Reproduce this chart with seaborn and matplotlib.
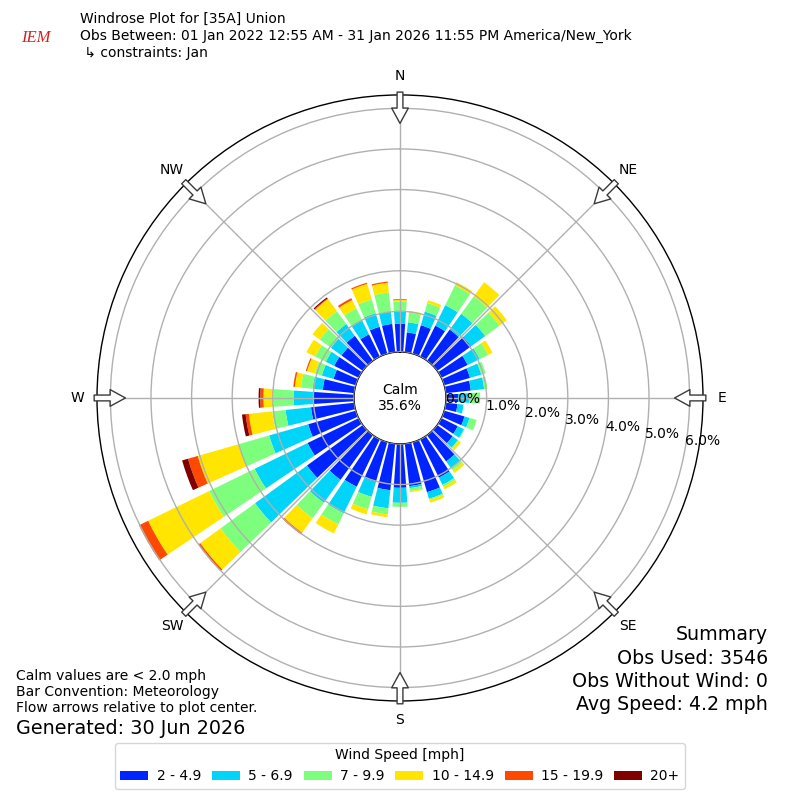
import numpy as np
import matplotlib
matplotlib.use("Agg")
import matplotlib.pyplot as plt
import seaborn as sns

# ---------------- data ----------------
directions = np.arange(0, 360, 10)  # degrees (meteorological, "from")

speed_labels = ["2 - 4.9", "5 - 6.9", "7 - 9.9", "10 - 14.9", "15 - 19.9", "20+"]

# per-band frequency (%) for each direction
pct_2_5 = [0.70, 0.49, 0.73, 0.85, 0.95, 1.03, 0.72, 0.66, 0.62, 0.30, 0.29, 0.52,
           0.45, 0.47, 0.80, 1.05, 1.28, 1.05, 1.08, 1.15, 1.02, 1.30, 1.36, 1.70,
           1.40, 1.22, 1.07, 1.00, 0.78, 0.57, 0.67, 0.65, 0.76, 0.61, 0.69, 0.70]
pct_5_7 = [0.29, 0.25, 0.35, 0.56, 0.48, 0.43, 0.33, 0.29, 0.33, 0.28, 0.15, 0.13,
           0.17, 0.16, 0.20, 0.20, 0.17, 0.05, 0.37, 0.45, 0.38, 0.73, 0.70, 1.58,
           1.45, 1.00, 0.63, 0.49, 0.25, 0.30, 0.23, 0.32, 0.36, 0.38, 0.35, 0.30]
pct_7_10 = [0.25, 0.24, 0.22, 0.54, 0.53, 0.44, 0.23, 0.11, 0.08, 0.26, 0.00, 0.18,
            0.02, 0.03, 0.08, 0.05, 0.03, 0.07, 0.10, 0.15, 0.32, 0.30, 0.47, 1.05,
            1.25, 0.78, 0.33, 0.49, 0.29, 0.18, 0.29, 0.34, 0.39, 0.33, 0.35, 0.48]
pct_10_15 = [0.04, 0.04, 0.07, 0.09, 0.43, 0.22, 0.12, 0.00, 0.00, 0.00, 0.00, 0.00,
             0.00, 0.06, 0.07, 0.07, 0.07, 0.03, 0.00, 0.07, 0.13, 0.25, 0.44, 0.62,
             1.67, 1.05, 0.58, 0.25, 0.15, 0.20, 0.24, 0.22, 0.37, 0.23, 0.40, 0.24]
pct_15_20 = [0.02, 0.00, 0.00, 0.00, 0.00, 0.00, 0.00, 0.00, 0.00, 0.00, 0.00, 0.00,
             0.00, 0.00, 0.00, 0.00, 0.00, 0.00, 0.00, 0.00, 0.00, 0.00, 0.05, 0.06,
             0.25, 0.25, 0.08, 0.08, 0.04, 0.03, 0.00, 0.00, 0.02, 0.05, 0.03, 0.03]
pct_20p = [0.00, 0.00, 0.00, 0.00, 0.00, 0.00, 0.00, 0.00, 0.00, 0.00, 0.00, 0.00,
           0.00, 0.00, 0.00, 0.00, 0.00, 0.00, 0.00, 0.00, 0.00, 0.00, 0.00, 0.00,
           0.00, 0.15, 0.09, 0.04, 0.00, 0.00, 0.00, 0.00, 0.03, 0.00, 0.00, 0.00]

radial_ticks = [0, 1, 2, 3, 4, 5, 6]
compass_angles = [0, 45, 90, 135, 180, 225, 270, 315]
compass_labels = ["N", "NE", "E", "SE", "S", "SW", "W", "NW"]
calm_pct = 35.6
summary_lines = ["Summary", "Obs Used: 3546", "Obs Without Wind: 0", "Avg Speed: 4.2 mph"]

# ---------------- style ----------------
sns.set_style("white")
plt.rcParams["font.family"] = ["DejaVu Sans"]
plt.rcParams["text.color"] = "black"
plt.rcParams["xtick.color"] = "black"
plt.rcParams["ytick.color"] = "black"
plt.rcParams["axes.labelcolor"] = "black"
palette = sns.color_palette(["#0024ff", "#00d4f8", "#7dff7d", "#ffe500", "#ff4800", "#800000"])

fig = plt.figure(figsize=(8, 8), dpi=100)
ax = fig.add_axes([0.12125, 0.1238, 0.7575, 0.7575], projection="polar")
ax.set_theta_zero_location("N")
ax.set_theta_direction(-1)
ax.set_rorigin(-1.133)
ax.set_ylim(0, 6.33)
ax.set_axisbelow(False)

theta = np.deg2rad(directions)
bands = [pct_2_5, pct_5_7, pct_7_10, pct_10_15, pct_15_20, pct_20p]
bottom = np.zeros(len(directions))
handles = []
for vals, col, lab in zip(bands, palette, speed_labels):
    vals = np.asarray(vals)
    b = ax.bar(theta, vals, width=np.deg2rad(8), bottom=bottom, color=col,
               linewidth=0, label=lab, zorder=1)
    handles.append(b)
    bottom = bottom + vals

ax.set_yticks(radial_ticks)
ax.set_yticklabels([f"{v:.1f}%" for v in radial_ticks], fontsize=10)
ax.set_rlabel_position(100)
ax.set_thetagrids(compass_angles, compass_labels, fontsize=10)
ax.tick_params(axis="x", pad=3.5)
ax.grid(True, color="#b0b0b0", linewidth=1)
for sp in ax.spines.values():
    sp.set_color("black")
    sp.set_linewidth(1)

# flow arrows at the compass points
for ang in compass_angles:
    t = np.deg2rad(ang)
    ax.annotate("", xy=(t, 5.63), xytext=(t, 6.40), xycoords="data",
                arrowprops=dict(arrowstyle="simple,head_length=1.1,head_width=1.2,tail_width=0.42",
                                fc="white", ec="#3a3a3a", lw=1, shrinkA=0, shrinkB=0),
                annotation_clip=False, zorder=6)

ax.text(0, -1.133, f"Calm\n{calm_pct:.1f}%", ha="center", va="center", fontsize=10,
        zorder=7)

# ---------------- texts ----------------
fig.text(0.1, 0.985,
         "Windrose Plot for [35A] Union\n"
         "Obs Between: 01 Jan 2022 12:55 AM - 31 Jan 2026 11:55 PM America/New_York\n"
         " \u21b3 constraints: Jan",
         ha="left", va="top", fontsize=10, linespacing=1.25)
fig.text(0.045, 0.953, "IEM", color="#d42020", fontsize=12, style="italic",
         family="Liberation Serif", ha="center", va="center")

fig.text(0.02, 1 - 669 / 800,
         "Calm values are < 2.0 mph\nBar Convention: Meteorology\nFlow arrows relative to plot center.",
         ha="left", va="top", fontsize=10, linespacing=1.2)
fig.text(0.02, 1 - 729 / 800, "Generated: 30 Jun 2026", ha="left", va="center", fontsize=13.8)

for i, line in enumerate(summary_lines):
    fig.text(0.96, 1 - (635 + 23.3 * i) / 800, line, ha="right", va="center", fontsize=13.7)

fig.legend(handles=handles, labels=speed_labels, loc="lower center",
           bbox_to_anchor=(0.5, 0.014), ncol=6, title="Wind Speed [mph]",
           fontsize=10, title_fontsize=10, handlelength=2.0, handleheight=0.6,
           handletextpad=0.6, columnspacing=0.8, frameon=True, borderaxespad=0)

fig.savefig("out.png", dpi=100)
